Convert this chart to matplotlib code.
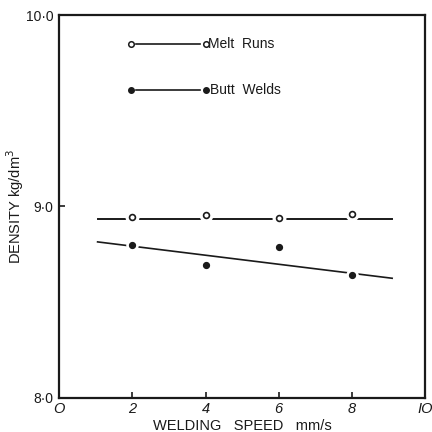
import numpy as np
import matplotlib.pyplot as plt

plt.rcParams['font.family'] = ['Liberation Sans', 'DejaVu Sans']

# measured points
speed = [2, 4, 6, 8]
melt_runs = [8.945, 8.955, 8.94, 8.96]
butt_welds = [8.80, 8.695, 8.79, 8.64]

# fitted lines as drawn on the original
melt_fit_x = [1.05, 9.1]
melt_fit_y = [8.935, 8.935]
butt_fit_x = [1.05, 9.1]
butt_fit_y = [8.815, 8.625]

xticks = [0, 2, 4, 6, 8, 10]
xtick_labels = ['O', '2', '4', '6', '8', 'IO']
yticks = [8.0, 9.0, 10.0]
ytick_labels = ['8·0', '9·0', '10·0']

fig = plt.figure(figsize=(4.32, 4.32), dpi=100)
ax = fig.add_axes([0.137, 0.079, 0.847, 0.886])

ink = '#1a1a1a'

ax.plot(melt_fit_x, melt_fit_y, color=ink, lw=1.4, zorder=2)
ax.plot(butt_fit_x, butt_fit_y, color=ink, lw=1.2, zorder=2)

# white halos so the line breaks around each marker
ax.plot(speed, melt_runs, 'o', ms=9, color='white', zorder=3)
ax.plot(speed, melt_runs, 'o', ms=4.2, mfc='white', mec=ink, mew=1.2, zorder=4)
ax.plot(speed, butt_welds, 'o', ms=8, color='white', zorder=3)
ax.plot(speed, butt_welds, 'o', ms=4.2, color=ink, zorder=4)

# key drawn inside the plot
tr = ax.transAxes
ax.plot([0.21, 0.385], [0.925, 0.925], color=ink, lw=1.2, transform=tr, zorder=2)
ax.plot([0.195, 0.4], [0.925, 0.925], 'o', ms=4, mfc='white', mec=ink, mew=1.1,
        transform=tr, zorder=4)
ax.text(0.407, 0.925, 'Melt  Runs', transform=tr, va='center', ha='left',
        fontsize=10, color=ink)
ax.plot([0.21, 0.385], [0.805, 0.805], color=ink, lw=1.2, transform=tr, zorder=2)
ax.plot([0.195, 0.4], [0.805, 0.805], 'o', ms=4, color=ink, transform=tr, zorder=4)
ax.text(0.412, 0.805, 'Butt  Welds', transform=tr, va='center', ha='left',
        fontsize=10, color=ink)

ax.set_xlim(0, 10)
ax.set_ylim(8.0, 10.0)
ax.set_xticks(xticks)
ax.set_xticklabels(xtick_labels, fontsize=10.5, style='italic')
ax.set_yticks(yticks)
ax.set_yticklabels(ytick_labels, fontsize=10)
ax.tick_params(direction='in', length=4, width=1.2, colors=ink)
ax.tick_params(axis='x', pad=3)
ax.tick_params(axis='y', pad=4)
for s in ax.spines.values():
    s.set_linewidth(1.6)
    s.set_color(ink)

ax.set_xlabel('WELDING   SPEED   mm/s', fontsize=10.5, color=ink, va='center')
ax.xaxis.set_label_coords(0.5, -0.073)
ax.set_ylabel('DENSITY kg/dm$^3$', fontsize=10.5, labelpad=0, color=ink)

fig.savefig('out.png', dpi=100)
